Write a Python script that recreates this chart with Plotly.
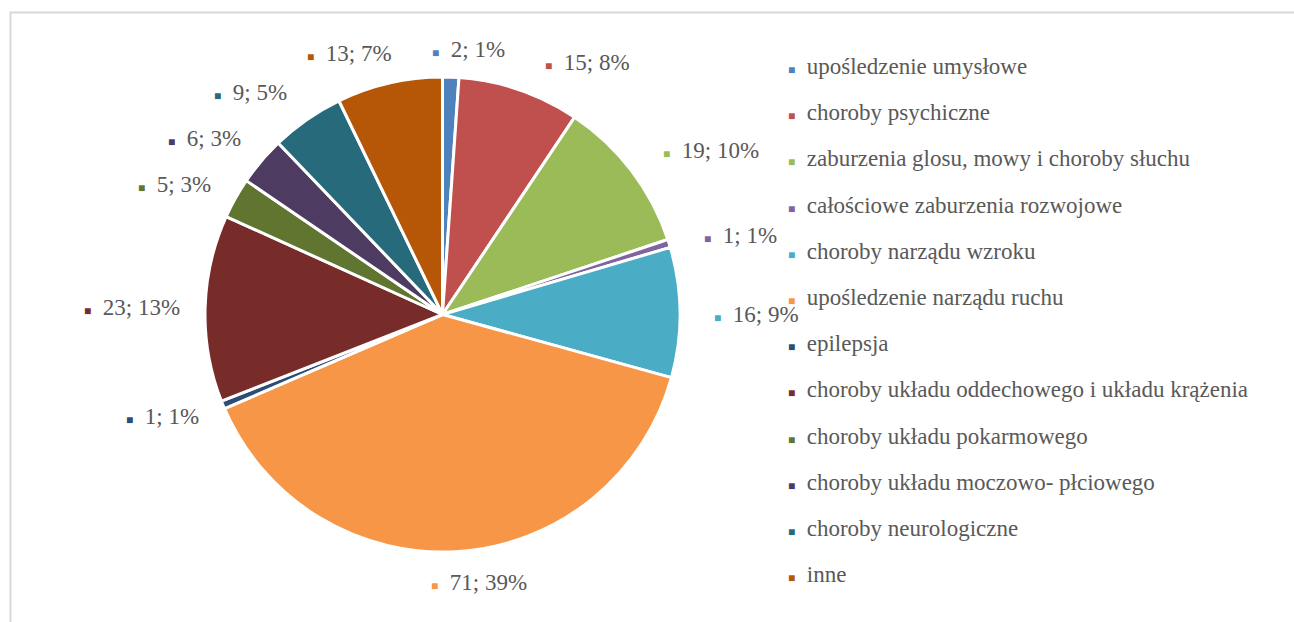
import math
import plotly.graph_objects as go

categories = [
    "upośledzenie umysłowe",
    "choroby psychiczne",
    "zaburzenia glosu, mowy i choroby słuchu",
    "całościowe zaburzenia rozwojowe",
    "choroby narządu wzroku",
    "upośledzenie narządu ruchu",
    "epilepsja",
    "choroby układu oddechowego i układu krążenia",
    "choroby układu pokarmowego",
    "choroby układu moczowo- płciowego",
    "choroby neurologiczne",
    "inne",
]
counts = [2, 15, 19, 1, 16, 71, 1, 23, 5, 6, 9, 13]
colors = [
    "#4F81BD", "#C0504D", "#9BBB59", "#8064A2", "#4BACC6", "#F79646",
    "#2C4D75", "#772C2A", "#5F7530", "#4D3B62", "#276A7C", "#B65708",
]

W, H = 1294, 622
FONT = "'Liberation Serif', 'DejaVu Serif', serif"
TXT = "#595959"
FS = 23

# pie box in pixels
left, right, top, bottom = 205, 680, 77, 552
cx, cy = (left + right) / 2, (top + bottom) / 2
R = (right - left) / 2

# label nudges (px, like Excel's best-fit shuffling), y down
nudge = [(17, 0), (59, -1), (7, -3), (6, 0), (4, 2), (18, 3),
         (4, 1), (5, 0), (2, 0), (3, -4), (-2, -4), (-34, -2)]

fig = go.Figure(
    go.Pie(
        labels=categories,
        values=counts,
        sort=False,
        direction="clockwise",
        rotation=0,
        marker=dict(colors=colors, line=dict(color="white", width=3)),
        textinfo="none",
        hoverinfo="label+value+percent",
        showlegend=False,
        domain=dict(x=[left / W, right / W], y=[1 - bottom / H, 1 - top / H]),
    )
)

total = sum(counts)
annotations = []
cum = 0
for i, (v, col) in enumerate(zip(counts, colors)):
    mid = (cum + v / 2) / total * 2 * math.pi
    cum += v
    s, c = math.sin(mid), math.cos(mid)
    rl = R + 28
    px = cx + rl * s
    py = cy - rl * c
    if s > 0.35:
        xa = "left"
    elif s < -0.35:
        xa = "right"
    else:
        xa = "center"
    pct = max(round(v / total * 100), 1)
    annotations.append(dict(
        x=px / W, y=1 - py / H, xref="paper", yref="paper",
        xanchor=xa, yanchor="middle", showarrow=False,
        xshift=nudge[i][0], yshift=-nudge[i][1],
        text=f"<span style='color:{col};font-size:12px'>■</span>  {v}; {pct}%",
        font=dict(family=FONT, size=FS, color=TXT),
    ))

# legend on the right
for i, (cat, col) in enumerate(zip(categories, colors)):
    annotations.append(dict(
        x=786 / W, y=1 - (66.5 + i * 46.2) / H, xref="paper", yref="paper",
        xanchor="left", yanchor="middle", showarrow=False,
        text=f"<span style='color:{col};font-size:12px'>■</span>\u2002{cat}",
        font=dict(family=FONT, size=FS, color=TXT),
    ))

fig.update_layout(
    width=W, height=H,
    margin=dict(l=0, r=0, t=0, b=0),
    paper_bgcolor="white",
    plot_bgcolor="white",
    font=dict(family=FONT),
    annotations=annotations,
    shapes=[dict(type="rect", xref="paper", yref="paper",
                 x0=10.5 / W, x1=1.02, y0=-0.02, y1=1 - 12.5 / H,
                 line=dict(color="#D9D9D9", width=2))],
)

fig.write_html("out.html", config={"displayModeBar": False},
               post_script="document.body.style.margin='0';")
